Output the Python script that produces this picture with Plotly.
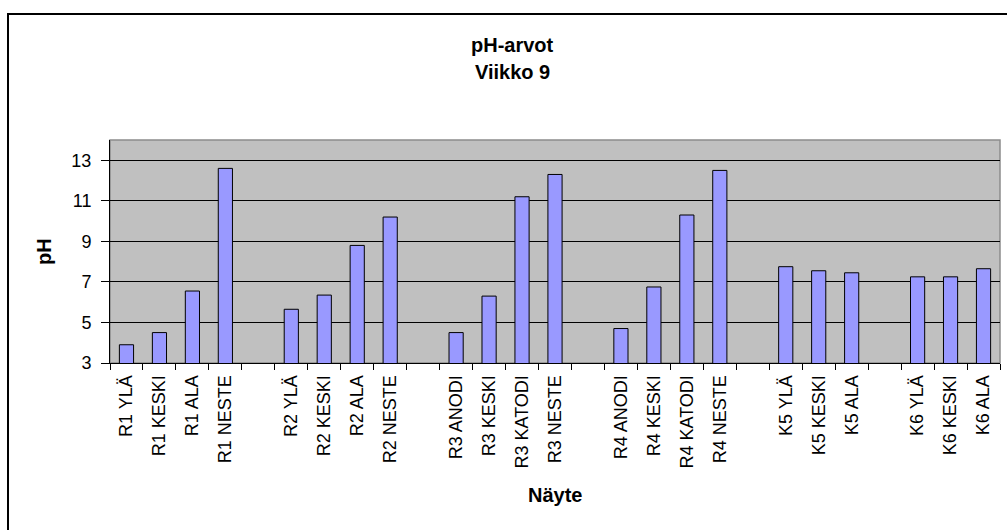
import plotly.graph_objects as go

# Sample names (blank entries separate the reactor groups)
samples = [
    "R1 YLÄ", "R1 KESKI", "R1 ALA", "R1 NESTE", " ",
    "R2 YLÄ", "R2 KESKI", "R2 ALA", "R2 NESTE", "  ",
    "R3 ANODI", "R3 KESKI", "R3 KATODI", "R3 NESTE", "   ",
    "R4 ANODI", "R4 KESKI", "R4 KATODI", "R4 NESTE", "    ",
    "K5 YLÄ", "K5 KESKI", "K5 ALA", "     ",
    "K6 YLÄ", "K6 KESKI", "K6 ALA",
]

# Measured pH per sample (None for the spacer slots)
ph_values = [
    3.9, 4.5, 6.55, 12.6, None,
    5.65, 6.35, 8.8, 10.2, None,
    4.5, 6.3, 11.2, 12.3, None,
    4.7, 6.75, 10.3, 12.5, None,
    7.75, 7.55, 7.45, None,
    7.25, 7.25, 7.65,
]

y_ticks = [3, 5, 7, 9, 11, 13]

FONT = "Arial, 'Liberation Sans', sans-serif"

fig = go.Figure(
    go.Bar(
        x=samples,
        y=ph_values,
        marker=dict(color="#9999FF", line=dict(color="black", width=1)),
        hoverinfo="x+y",
    )
)

fig.update_layout(
    width=1007,
    height=530,
    margin=dict(l=110, r=7, t=140, b=167),
    paper_bgcolor="white",
    plot_bgcolor="#C0C0C0",
    bargap=0.57,
    showlegend=False,
    font=dict(family=FONT, size=18, color="black"),
)

fig.update_xaxes(
    type="category",
    categoryorder="array",
    categoryarray=samples,
    tickangle=-90,
    ticks="outside",
    tickson="boundaries",
    ticklen=6,
    tickcolor="black",
    tickwidth=1,
    showline=True,
    linecolor="black",
    linewidth=1,
    showgrid=False,
    tickfont=dict(family=FONT, size=18, color="black"),
    ticklabelstandoff=4,
)

fig.update_yaxes(
    range=[3, 14],
    tickvals=y_ticks,
    ticks="outside",
    ticklen=8,
    tickcolor="black",
    tickwidth=1,
    showline=True,
    linecolor="black",
    linewidth=1,
    showgrid=True,
    gridcolor="black",
    gridwidth=1,
    zeroline=False,
    tickfont=dict(family=FONT, size=18, color="black"),
    ticklabelstandoff=6,
)

# Plot-area border and the outer chart frame
fig.add_shape(type="rect", xref="paper", yref="paper", x0=0, x1=1, y0=0, y1=1,
              line=dict(color="#8C8C8C", width=1.5), fillcolor="rgba(0,0,0,0)", layer="below")
fig.add_shape(type="rect", xref="paper", yref="paper", x0=-0.1146, x1=1.1, y0=-1.0, y1=1.565,
              line=dict(color="black", width=2), fillcolor="rgba(0,0,0,0)")

bold = dict(family=FONT, size=20, color="black")
fig.add_annotation(text="<b>pH-arvot</b>", xref="paper", yref="paper", x=0.4528, y=1.426,
                   xanchor="center", yanchor="middle", showarrow=False, font=bold)
fig.add_annotation(text="<b>Viikko 9</b>", xref="paper", yref="paper", x=0.4528, y=1.306,
                   xanchor="center", yanchor="middle", showarrow=False, font=bold)
fig.add_annotation(text="<b>Näyte</b>", xref="paper", yref="paper", x=0.5, y=-0.592,
                   xanchor="center", yanchor="middle", showarrow=False, font=bold)
fig.add_annotation(text="<b>pH</b>", xref="paper", yref="paper", x=-0.0742, y=0.502,
                   xanchor="center", yanchor="middle", textangle=-90, showarrow=False, font=bold)

fig.write_html("out.html")
